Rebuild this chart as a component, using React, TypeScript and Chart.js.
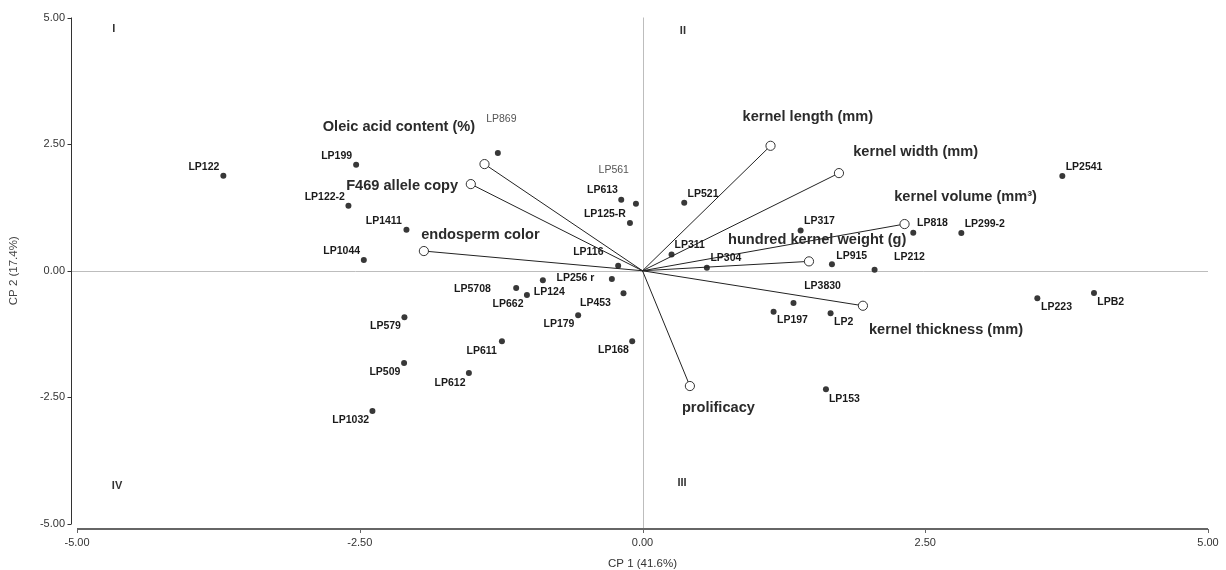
import React, { useEffect, useRef } from "react";
import { Chart, registerables } from "chart.js";

Chart.register(...registerables);

const FONT = '"Liberation Sans", Arial, Helvetica, sans-serif';

// ---- genotype scores (CP1, CP2) ----
const genotypes = [
  "LP122", "LP199", "LP122-2", "LP1411", "LP1044", "LP579", "LP509", "LP1032",
  "LP869", "LP561", "LP613", "LP125-R", "LP521", "LP116", "LP311", "LP304",
  "LP317", "LP818", "LP299-2", "LP2541", "LP915", "LP212", "LP3830", "LP197",
  "LP2", "LP223", "LPB2", "LP153", "LP5708", "LP662", "LP124", "LP256 r",
  "LP453", "LP179", "LP611", "LP612", "LP168",
];
const cp1 = [
  -3.706, -2.532, -2.6, -2.087, -2.464, -2.105, -2.108, -2.388,
  -1.279, -0.058, -0.188, -0.111, 0.369, -0.215, 0.257, 0.569,
  1.398, 2.394, 2.819, 3.712, 1.675, 2.052, 1.335, 1.159,
  1.663, 3.491, 3.992, 1.622, -1.117, -1.022, -0.881, -0.271,
  -0.168, -0.569, -1.243, -1.535, -0.091,
];
const cp2 = [
  1.875, 2.092, 1.283, 0.809, 0.211, -0.92, -1.822, -2.769,
  2.323, 1.322, 1.401, 0.941, 1.342, 0.099, 0.323, 0.059,
  0.797, 0.75, 0.744, 1.869, 0.126, 0.02, -0.637, -0.809,
  -0.841, -0.545, -0.44, -2.341, -0.341, -0.48, -0.189, -0.164,
  -0.446, -0.88, -1.393, -2.019, -1.393,
];
// genotypes whose labels are printed light (non-bold)
const lightLabels = ["LP869", "LP561"];

// ---- trait vectors (loadings) ----
const traits = [
  "Oleic acid content (%)", "F469 allele copy", "endosperm color",
  "kernel length (mm)", "kernel width (mm)", "kernel volume (mm³)",
  "hundred kernel weight (g)", "kernel thickness (mm)", "prolificacy",
];
const traitX = [-1.397, -1.518, -1.933, 1.132, 1.737, 2.317, 1.472, 1.949, 0.419];
const traitY = [2.106, 1.711, 0.389, 2.467, 1.928, 0.922, 0.185, -0.691, -2.276];

// ---- quadrant labels ----
const quadrants = ["I", "II", "III", "IV"];
const quadrantX = [-4.675, 0.357, 0.35, -4.646];
const quadrantY = [4.764, 4.731, -4.19, -4.249];

// ---- axis ----
const xTitle = "CP 1 (41.6%)";
const yTitle = "CP 2 (17.4%)";
const axisMin = -5;
const axisMax = 5;
const axisStep = 2.5;

// ---- label placement (pixel offsets from the mark, alignment) ----
type Place = [number, number, CanvasTextAlign];
const genotypePlacement: Place[] = [
  [-4, -9, "right"], [-4, -8.5, "right"], [-3.5, -8.5, "right"], [-4.5, -8.7, "right"],
  [-3.7, -8.7, "right"], [-3.5, 9, "right"], [-3.7, 9.3, "right"], [-3.3, 9.3, "right"],
  [-11.7, -33.7, "left"], [-7, -33.4, "right"], [-3.3, -9.7, "right"], [-4, -9, "right"],
  [3.3, -9, "left"], [-14.7, -13.7, "right"], [3, -9, "left"], [3.6, -9.7, "left"],
  [3.4, -9.6, "left"], [3.7, -9.7, "left"], [3.3, -8.7, "left"], [3.3, -8.7, "left"],
  [4.3, -8.6, "left"], [19.4, -13, "left"], [10.7, -17.3, "left"], [3.4, 8.3, "left"],
  [3.4, 8.7, "left"], [3.7, 8.7, "left"], [3.3, 9, "left"], [3, 9.4, "left"],
  [-25.3, 1.3, "right"], [-3.4, 8.7, "right"], [-9, 12, "left"], [-17.4, -0.7, "right"],
  [-12.6, 9.7, "right"], [-3.7, 8.7, "right"], [-5, 9.4, "right"], [-3.4, 9.7, "right"],
  [-3.3, 9, "right"],
];
const traitPlacement: Place[] = [
  [-9.3, -37, "right"], [-12.7, 2, "right"], [-2.7, -16, "left"],
  [-28, -29, "left"], [14.3, -21.3, "left"], [-10.3, -26.7, "left"],
  [97.4, -21.7, "right"], [6, 24.3, "left"], [-8, 21.7, "left"],
];

const overlayPlugin = {
  id: "pcaOverlay",
  beforeDatasetsDraw(chart: any) {
    const { ctx, chartArea, scales } = chart;
    const xs = scales.x;
    const ys = scales.y;
    const axisX = chartArea.left - 5.5;
    const axisY = chartArea.bottom + 5;
    ctx.save();
    // zero reference lines
    const x0 = Math.round(xs.getPixelForValue(0)) + 0.5;
    const y0 = Math.round(ys.getPixelForValue(0)) + 0.5;
    ctx.strokeStyle = "#bdbdbd";
    ctx.lineWidth = 1;
    ctx.beginPath();
    ctx.moveTo(axisX, y0);
    ctx.lineTo(chartArea.right, y0);
    ctx.moveTo(x0, chartArea.top);
    ctx.lineTo(x0, axisY);
    ctx.stroke();
    // y axis line + ticks
    ctx.strokeStyle = "#333";
    ctx.lineWidth = 1;
    ctx.beginPath();
    ctx.moveTo(axisX, ys.getPixelForValue(axisMax));
    ctx.lineTo(axisX, ys.getPixelForValue(axisMin));
    ys.ticks.forEach((t: any) => {
      const py = Math.round(ys.getPixelForValue(t.value)) + 0.5;
      ctx.moveTo(axisX - 4, py);
      ctx.lineTo(axisX, py);
    });
    ctx.stroke();
    // x axis line + ticks
    ctx.strokeStyle = "#666";
    ctx.lineWidth = 2;
    ctx.beginPath();
    ctx.moveTo(xs.getPixelForValue(axisMin), axisY);
    ctx.lineTo(xs.getPixelForValue(axisMax), axisY);
    ctx.stroke();
    ctx.lineWidth = 1;
    ctx.beginPath();
    xs.ticks.forEach((t: any) => {
      const px = Math.round(xs.getPixelForValue(t.value)) + 0.5;
      ctx.moveTo(px, axisY);
      ctx.lineTo(px, axisY + 4);
    });
    ctx.stroke();
    ctx.restore();
  },
  afterDatasetsDraw(chart: any) {
    const { ctx, scales } = chart;
    const xs = scales.x;
    const ys = scales.y;
    ctx.save();
    ctx.textBaseline = "middle";
    // genotype labels
    genotypes.forEach((g, i) => {
      const [dx, dy, align] = genotypePlacement[i];
      const light = lightLabels.includes(g);
      ctx.font = (light ? "" : "bold ") + "10.5px " + FONT;
      ctx.fillStyle = light ? "#555" : "#1a1a1a";
      ctx.textAlign = align;
      ctx.fillText(g, xs.getPixelForValue(cp1[i]) + dx, ys.getPixelForValue(cp2[i]) + dy);
    });
    // trait labels
    ctx.font = "bold 14.6px " + FONT;
    ctx.fillStyle = "#2b2b2b";
    traits.forEach((t, i) => {
      const [dx, dy, align] = traitPlacement[i];
      ctx.textAlign = align;
      ctx.fillText(t, xs.getPixelForValue(traitX[i]) + dx, ys.getPixelForValue(traitY[i]) + dy);
    });
    // quadrant labels
    ctx.font = "bold 11px " + FONT;
    ctx.fillStyle = "#333";
    ctx.textAlign = "center";
    quadrants.forEach((q, i) => {
      ctx.fillText(q, xs.getPixelForValue(quadrantX[i]), ys.getPixelForValue(quadrantY[i]));
    });
    ctx.restore();
  },
};

export default function App() {
  const ref = useRef<HTMLCanvasElement | null>(null);
  useEffect(() => {
    if (!ref.current) return;
    const vectorSets = traits.map((t, i) => ({
      type: "line" as const,
      label: t,
      data: [
        { x: 0, y: 0 },
        { x: traitX[i], y: traitY[i] },
      ],
      showLine: true,
      borderColor: "#222",
      borderWidth: 1,
      pointRadius: [0, 4.6],
      pointBackgroundColor: "#ffffff",
      pointBorderColor: "#333",
      pointBorderWidth: 1,
      fill: false,
      order: 1,
    }));
    const chart = new Chart(ref.current, {
      type: "scatter",
      data: {
        datasets: [
          {
            type: "scatter" as const,
            label: "genotypes",
            data: genotypes.map((_, i) => ({ x: cp1[i], y: cp2[i] })),
            pointRadius: 3,
            pointBackgroundColor: "#383838",
            pointBorderColor: "#383838",
            pointBorderWidth: 0,
            order: 2,
          },
          ...vectorSets,
        ] as any,
      },
      options: {
        responsive: false,
        animation: false,
        devicePixelRatio: 1,
        layout: { padding: { top: 17.5, right: 18, left: 0, bottom: 0 } },
        plugins: {
          legend: { display: false },
          tooltip: { enabled: false },
        },
        scales: {
          x: {
            type: "linear",
            min: axisMin,
            max: axisMax,
            grid: { display: false, drawTicks: false },
            border: { display: false },
            ticks: {
              stepSize: axisStep,
              padding: 12,
              color: "#333",
              font: { family: FONT, size: 11 },
              callback: (v: any) => Number(v).toFixed(2),
            },
            title: {
              display: true,
              text: xTitle,
              color: "#333",
              font: { family: FONT, size: 11.5, lineHeight: 1 },
              padding: { top: 0, bottom: 0.2 },
            },
            afterFit: (s: any) => {
              s.height = 46;
              s.paddingLeft = 0;
              s.paddingRight = 0;
            },
          },
          y: {
            type: "linear",
            min: axisMin,
            max: axisMax,
            grid: { display: false, drawTicks: false },
            border: { display: false },
            ticks: {
              stepSize: axisStep,
              padding: 12,
              color: "#333",
              font: { family: FONT, size: 11 },
              callback: (v: any) => Number(v).toFixed(2),
            },
            title: {
              display: true,
              text: yTitle,
              color: "#444",
              font: { family: FONT, size: 11.5, lineHeight: 1 },
              padding: { top: 8.2, bottom: 0 },
            },
            afterFit: (s: any) => {
              s.width = 77;
              s.paddingTop = 0;
              s.paddingBottom = 0;
            },
          },
        },
      },
      plugins: [overlayPlugin],
    });
    return () => chart.destroy();
  }, []);
  return (
    <div style={{ position: "absolute", left: 0, top: 0, width: 1226, height: 570, background: "#fff" }}>
      <canvas ref={ref} width={1226} height={570} />
    </div>
  );
}
